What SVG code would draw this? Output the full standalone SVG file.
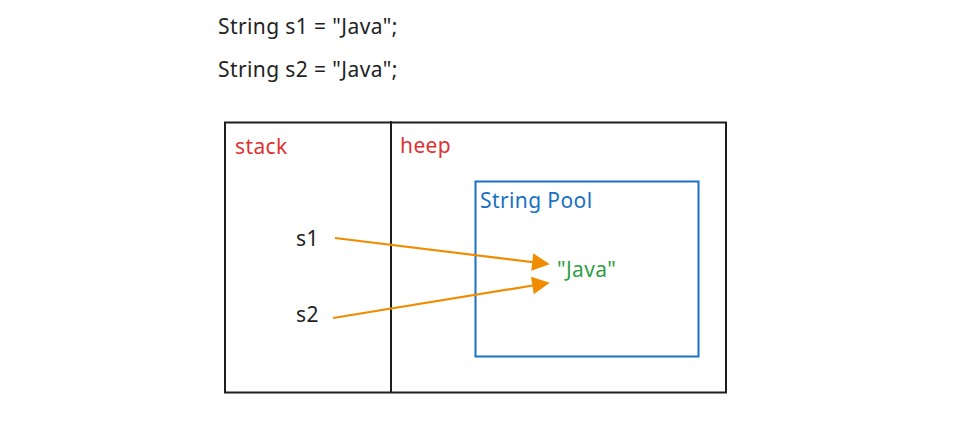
<svg xmlns="http://www.w3.org/2000/svg" width="958" height="425" viewBox="0 0 958 425">
<style>
text{font-family:"Noto Sans","Open Sans",sans-serif;font-size:21px;letter-spacing:0.4px}
.code{fill:#222}
.red{fill:#e03131}
.blue{fill:#1971c2}
.green{fill:#2f9e44}
.dark{fill:#1e1e1e}
.box{fill:none;stroke:#1e1e1e;stroke-width:2}
.pool{fill:none;stroke:#1971c2;stroke-width:2}
.arrow{fill:none;stroke:#f08c00;stroke-width:2.2;marker-end:url(#ah)}
</style>
<defs>
<marker id="ah" viewBox="0 0 10 10" refX="9" refY="5" markerWidth="9" markerHeight="8" markerUnits="strokeWidth" orient="auto">
<path d="M0,0 L10,5 L0,10 z" fill="#f08c00"/>
</marker>
</defs>
<rect width="958" height="425" fill="#fff"/>
<g id="code">
<text class="code" x="218" y="34">String s1 = "Java";</text>
<text class="code" x="218" y="77">String s2 = "Java";</text>
</g>
<g id="memory">
<rect class="box" x="225" y="122.5" width="501" height="270"/>
<line class="box" x1="391" y1="121" x2="391" y2="393"/>
<text class="red" x="235" y="154">stack</text>
<text class="red" x="400" y="153">heep</text>
</g>
<g id="pool">
<rect class="pool" x="475.5" y="181.5" width="223" height="175"/>
<text class="blue" x="480" y="208">String Pool</text>
</g>
<g id="s1"><text class="dark" x="296" y="246">s1</text></g>
<g id="s2"><text class="dark" x="296" y="322">s2</text></g>
<g id="java"><text class="green" x="557" y="277">"Java"</text></g>
<g id="connectors">
<line class="arrow" x1="335" y1="238" x2="548" y2="264"/>
<line class="arrow" x1="333" y1="318" x2="548" y2="283"/>
</g>
</svg>
